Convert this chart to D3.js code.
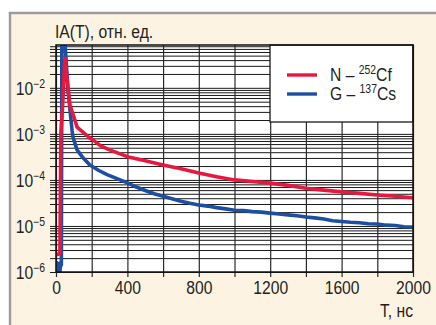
<!DOCTYPE html>
<html><head><meta charset="utf-8">
<script src="https://cdn.jsdelivr.net/npm/d3@7"></script>
<style>
html,body{margin:0;padding:0;background:#fff;}
svg{display:block;}
text{font-family:"Liberation Sans",Arial,sans-serif;fill:#231f20;}
</style></head><body>
<svg id="c" width="436" height="325"></svg>
<script>
// ---- data ----
const redT = [0, 10, 20, 22, 27, 37, 50, 78, 106, 118, 190, 207, 250, 300, 400, 500, 600, 700, 800, 900, 1000, 1100, 1200, 1300, 1400, 1500, 1600, 1700, 1800, 1900, 2000];
const redV = [2.5e-6, 2.4e-6, 2.5e-6, 2.6e-6, 1.0e-3, 4.0e-3, 4.4e-2, 4.2e-3, 2.0e-3, 1.4e-3, 8.1e-4, 7.4e-4, 5.5e-4, 4.5e-4, 3.2e-4, 2.6e-4, 2.1e-4, 1.75e-4, 1.42e-4, 1.17e-4, 1.0e-4, 9.2e-5, 8.5e-5, 7.6e-5, 6.6e-5, 6.0e-5, 5.5e-5, 5.1e-5, 4.7e-5, 4.4e-5, 4.1e-5];
const blueT = [0, 5, 10, 16, 21, 26, 30, 33, 47, 67, 90, 95, 118, 146, 190, 240, 286, 359, 400, 450, 500, 550, 600, 650, 700, 750, 800, 850, 900, 950, 1000, 1050, 1100, 1150, 1200, 1250, 1300, 1350, 1400, 1450, 1500, 1550, 1600, 1650, 1700, 1750, 1800, 1850, 1900, 1950, 2000];
const blueV = [0.9e-6, 1.6e-6, 0.9e-6, 1.5e-6, 0.9e-6, 1.6e-6, 1.4e-6, 1.5e-1, 1.5e-1, 9e-3, 1.2e-3, 8.5e-4, 4.5e-4, 3.2e-4, 2.1e-4, 1.6e-4, 1.3e-4, 1.0e-4, 8.6e-5, 7.0e-5, 5.9e-5, 5.0e-5, 4.4e-5, 3.9e-5, 3.45e-5, 3.1e-5, 2.85e-5, 2.7e-5, 2.5e-5, 2.35e-5, 2.2e-5, 2.15e-5, 2.05e-5, 2.0e-5, 1.9e-5, 1.82e-5, 1.74e-5, 1.66e-5, 1.56e-5, 1.5e-5, 1.42e-5, 1.3e-5, 1.25e-5, 1.2e-5, 1.17e-5, 1.12e-5, 1.1e-5, 1.04e-5, 1.02e-5, 0.96e-5, 0.95e-5];
const xTickLabels = [0, 400, 800, 1200, 1600, 2000];
const xGridValues = [0, 200, 400, 600, 800, 1000, 1200, 1400, 1600, 1800, 2000];
const yDecadeExps = [-6, -5, -4, -3, -2];
const seriesNames = ["N – ", "G – "];
const seriesIsotopes = ["252", "137"];
const seriesElements = ["Cf", "Cs"];
const seriesColors = ["#e8173f", "#1c4f9f"];
const yTitle = "IA(T), отн. ед.";
const xTitle = "T, нс";

// ---- layout ----
const L = 56, R = 413, T = 45, B = 272;
const SX = 0.87; // condensed type
const svg = d3.select("#c");
svg.append("rect").attr("width", 436).attr("height", 325).attr("fill", "#fff");
svg.append("rect").attr("x", 10).attr("y", 13).attr("width", 426).attr("height", 312).attr("fill", "#fcf3e2");
svg.append("line").attr("x1", 8.8).attr("x2", 436).attr("y1", 13).attr("y2", 13).attr("stroke", "#9c9c9c").attr("stroke-width", 2.4);
svg.append("line").attr("x1", 10).attr("x2", 10).attr("y1", 12).attr("y2", 325).attr("stroke", "#9c9c9c").attr("stroke-width", 2.4);

const x = d3.scaleLinear().domain([0, 2000]).range([L, R]);
const y = d3.scaleLog().domain([1e-6, Math.pow(10, -1.07)]).range([B, T]);

svg.append("rect").attr("x", L).attr("y", T).attr("width", R - L).attr("height", B - T).attr("fill", "#fff");

// minor log grid values
const minor = [];
for (let e = -6; e <= -2; e++) for (let m = 1; m <= 9; m++) {
  const v = m * Math.pow(10, e);
  if (v <= y.domain()[1] * 1.0001) minor.push(v);
}
const gy = svg.append("g").attr("transform", `translate(50,0)`)
  .call(d3.axisLeft(y).tickValues(minor).tickSize(-(R - 50)).tickSizeOuter(0).tickFormat(""));
gy.select(".domain").remove();
gy.selectAll(".tick line").attr("stroke", "#1a1a1a").attr("stroke-width", 1);

const gx = svg.append("g").attr("transform", `translate(0,277)`)
  .call(d3.axisBottom(x).tickValues(xGridValues).tickSize(-(277 - T)).tickSizeOuter(0).tickFormat(""));
gx.select(".domain").remove();
gx.selectAll(".tick line").attr("stroke", "#2a2a2a").attr("stroke-width", 1.2);

// legend box (covers grid)
const lg = svg.append("g");
lg.append("rect").attr("x", 270).attr("y", T).attr("width", R - 270).attr("height", 77)
  .attr("fill", "#fff").attr("stroke", "#1a1a1a").attr("stroke-width", 1.3);

// data lines
svg.append("clipPath").attr("id", "clip").append("rect").attr("x", L).attr("y", T).attr("width", R - L).attr("height", B - T);
const line = d3.line().x(d => x(d[0])).y(d => y(d[1]));
const series = [d3.zip(redT, redV), d3.zip(blueT, blueV)];
[1, 0].forEach(i => {
  svg.append("path").attr("d", line(series[i])).attr("fill", "none")
    .attr("stroke", seriesColors[i]).attr("stroke-width", 3.6)
    .attr("stroke-linejoin", "round").attr("clip-path", "url(#clip)");
});

// frame
svg.append("rect").attr("x", L).attr("y", T).attr("width", R - L).attr("height", B - T)
  .attr("fill", "none").attr("stroke", "#111").attr("stroke-width", 1.5);

// y labels
const yl = svg.append("g").attr("transform", `translate(${L},0)`)
  .call(d3.axisLeft(y).tickValues(yDecadeExps.map(e => Math.pow(10, e))).tickSize(0).tickFormat(""));
yl.select(".domain").remove();
yl.selectAll(".tick").each(function(d) {
  const t = d3.select(this).append("g").attr("transform", `translate(-11,0) scale(${SX},1)`)
    .append("text").attr("dy", "0.36em").attr("text-anchor", "end").attr("font-size", 18);
  t.append("tspan").text("10");
  t.append("tspan").attr("dy", -7).attr("font-size", 12).text("−" + Math.round(-Math.log10(d)));
});

// x labels
const xl = svg.append("g").attr("transform", `translate(0,${B})`)
  .call(d3.axisBottom(x).tickValues(xTickLabels).tickSize(0).tickPadding(9).tickFormat(d3.format("d")));
xl.select(".domain").remove();
xl.selectAll("text").attr("font-size", 18).attr("fill", "#231f20").style("font-family", null)
  .attr("transform", `scale(${SX},1)`);

svg.append("g").attr("transform", `translate(${R},317) scale(${SX},1)`)
  .append("text").attr("text-anchor", "end").attr("font-size", 18).text(xTitle);
svg.append("g").attr("transform", `translate(55,38) scale(${SX},1)`)
  .append("text").attr("font-size", 18).text(yTitle);

// legend entries
seriesNames.forEach((n, i) => {
  const yy = 75 + i * 19;
  lg.append("line").attr("x1", 287).attr("x2", 317).attr("y1", yy).attr("y2", yy)
    .attr("stroke", seriesColors[i]).attr("stroke-width", 3.4);
  const t = lg.append("g").attr("transform", `translate(330,${yy + 6}) scale(${SX},1)`)
    .append("text").attr("font-size", 18);
  t.append("tspan").text(n);
  t.append("tspan").attr("dy", -7).attr("font-size", 12).text(seriesIsotopes[i]);
  t.append("tspan").attr("dy", 7).text(seriesElements[i]);
});
</script>
</body></html>
